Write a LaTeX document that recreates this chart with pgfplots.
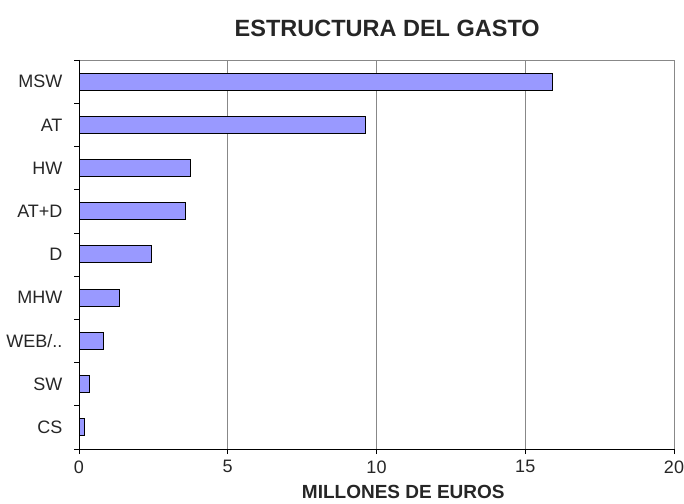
\documentclass[border=0pt]{standalone}
\usepackage{pgfplots}
\pgfplotsset{compat=1.18}
\usepackage{fontspec}
\setmainfont{Liberation Sans}
\definecolor{barfill}{HTML}{9999FF}
\definecolor{gridc}{HTML}{888888}
\begin{document}
\begin{tikzpicture}
\useasboundingbox (0,0) rectangle (684pt,503pt);
\begin{axis}[
  at={(79pt,54pt)}, anchor=south west,
  scale only axis, width=595pt, height=389pt,
  xbar, bar width=17pt,
  xmin=0, xmax=20, ymin=-0.5, ymax=8.5,
  xtick={0,5,10,15,20},
  ytick={0,...,8},
  yticklabels={CS,SW,WEB/..,MHW,D,AT+D,HW,AT,MSW},
  minor ytick={-0.5,0.5,...,8.5},
  major tick length=5pt,
  minor tick length=5pt,
  y tick style={draw=none},
  minor y tick style={draw=black, line width=0.6pt},
  x tick style={draw=black, line width=0.6pt},
  tick align=outside, tick pos=left,
  xmajorgrids, grid style={gridc, line width=0.6pt},
  axis line style={draw=none},
  /pgf/number format/assume math mode=true,
  ticklabel style={font=\fontsize{18}{20}\selectfont, text=black!85},
  yticklabel style={xshift=-8pt},
  xticklabel style={yshift=-3pt},
  title={\textbf{ESTRUCTURA DEL GASTO}},
  title style={font=\fontsize{23.5}{26}\selectfont, at={(axis description cs:0.518,1)}, anchor=south, yshift=14pt, text=black!85},
  xlabel={\textbf{MILLONES DE EUROS}},
  xlabel style={font=\fontsize{19}{22}\selectfont, at={(axis description cs:0.545,0)}, anchor=north, yshift=-33pt, text=black!85},
]
\addplot[fill=barfill, draw=black, line width=1pt] coordinates {
 (0.18,0) (0.36,1) (0.83,2) (1.35,3) (2.45,4) (3.59,5) (3.75,6) (9.64,7) (15.9,8)
};
\draw[gridc, line width=0.6pt] (axis cs:0,8.5) -- (axis cs:20,8.5);
\draw[black, line width=0.7pt] (axis cs:0,8.5) -- (axis cs:0,-0.5) -- (axis cs:20,-0.5);
\end{axis}
\end{tikzpicture}
\end{document}
